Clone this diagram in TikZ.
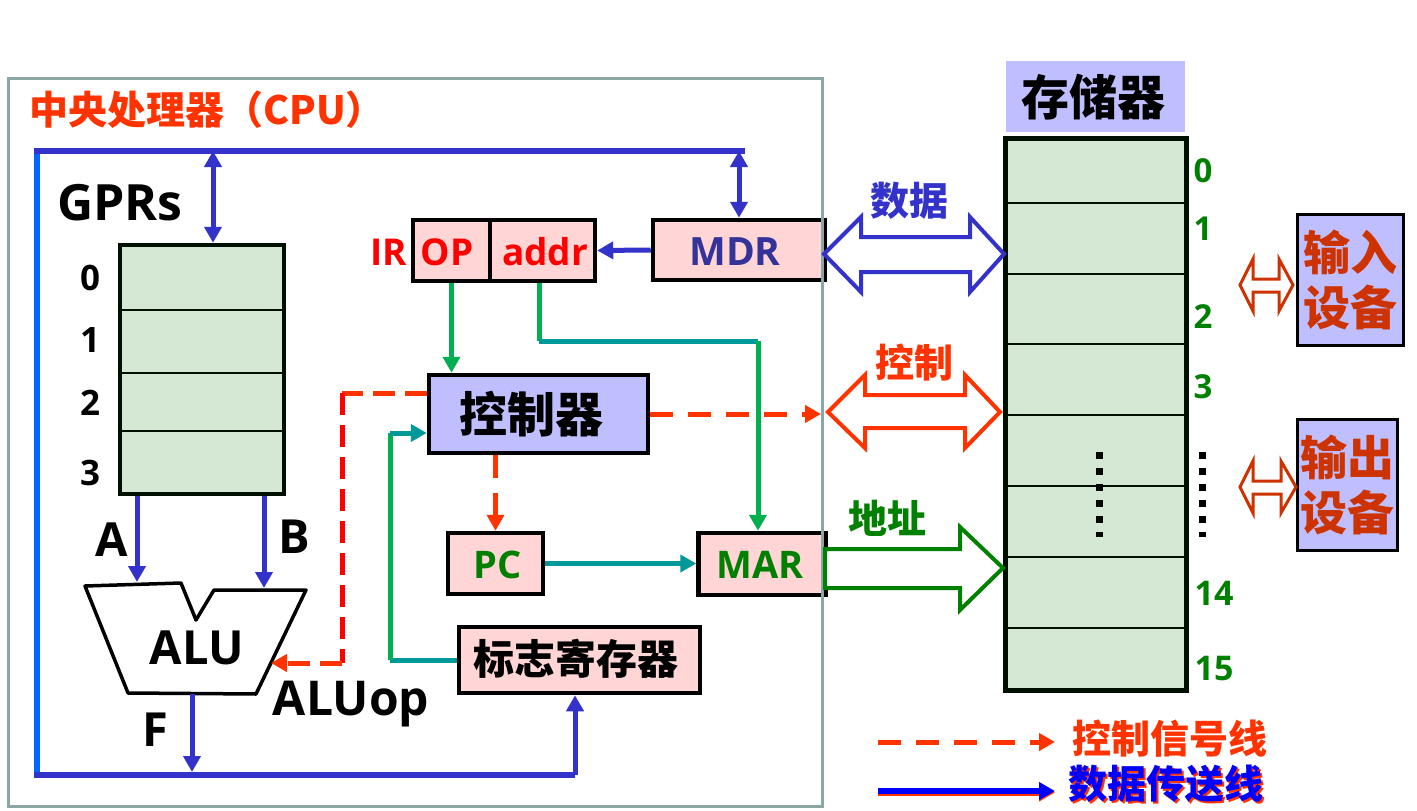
\documentclass[tikz,border=0pt]{standalone}
\usepackage{fontspec}
\setmainfont{Open Sans}
\newfontfamily\cjk{Noto Sans CJK SC}
\usetikzlibrary{arrows.meta,calc}
\definecolor{busc}{HTML}{3333CC}
\definecolor{lbus}{HTML}{0066FF}
\definecolor{ored}{HTML}{FF3300}
\definecolor{gline}{HTML}{00B050}
\definecolor{tline}{HTML}{009999}
\definecolor{pinkf}{HTML}{FFD5D5}
\definecolor{lav}{HTML}{BFBFFF}
\definecolor{memg}{HTML}{D5E8D4}
\definecolor{cpug}{HTML}{8CA5A5}
\definecolor{dgreen}{HTML}{008000}
\definecolor{iotext}{HTML}{CC3300}
\definecolor{mdrtext}{HTML}{333399}
\definecolor{gdark}{HTML}{001000}
\definecolor{pureblue}{HTML}{0000FF}
\begin{document}
\begin{tikzpicture}[x=1pt,y=-1pt,
  box/.style={draw=black,line width=4.5pt,fill=pinkf,inner sep=0pt},
  lat/.style={font=\fontsize{#1pt}{#1pt}\selectfont\bfseries},
  ck/.style={font=\cjk\fontsize{#1pt}{#1pt}\selectfont\bfseries},
  arr/.style={-{Triangle[length=16pt,width=17pt]}},
  barr/.style={{Triangle[length=16pt,width=17pt]}-{Triangle[length=16pt,width=17pt]}},
  dsh/.style={dash pattern=on 23pt off 15pt},
  wire/.style={line width=5pt},
  blk/.style={line width=4pt,fill=white,line join=miter}
]
\useasboundingbox (0,0) rectangle (1417,811);
\fill[white] (0,0) rectangle (1417,811);

% ---------- title ----------
\node[ck=39,text=ored] (title) at (207,110) {中央处理器（CPU）};

% ---------- bus ----------
\coordinate (bTL) at (37,151);
\coordinate (bTR) at (745,151);
\coordinate (bBL) at (37,775);
\coordinate (bBR) at (575,775);
\draw[lbus,line width=5.5pt] (bTL) -- (bBL);
\draw[busc,line width=5.5pt] ($(bTL)+(-3,0)$) -- (bTR);
\draw[busc,line width=5.5pt] ($(bBL)+(-3,0)$) -- (bBR);

% ---------- GPRs ----------
\node[lat=50] (gprs) at (120,203) {GPRs};
\node[draw=gdark,line width=4.5pt,fill=memg,minimum width=164pt,minimum height=249pt,inner sep=0pt] (gpr) at (202,369.5) {};
\foreach \yy in {310,373,431}
  \draw[gdark,line width=2pt] (gpr.west |- 0,\yy) -- (gpr.east |- 0,\yy);
\node[lat=35] (g0) at (90,278) {0};
\node[lat=35] (g1l) at (90,340) {1};
\node[lat=35] (g2) at (90,403) {2};
\node[lat=35] (g3) at (90,473) {3};
\coordinate (gb) at (213,151);
\draw[busc,wire,barr] (gb) -- (gb |- gpr.north);

% ---------- ALU ----------
\draw[black,line width=3.5pt,line join=round] (85,586) -- (181,583) -- (196,620) -- (214,590) -- (306,590) -- (256,694) -- (128,693) -- cycle;
\node[lat=47] (alu) at (197,648) {ALU};
\coordinate (ina) at (137,582);
\coordinate (inb) at (264,588);
\draw[busc,wire,arr] (ina |- gpr.south) -- (ina);
\draw[busc,wire,arr] (inb |- gpr.south) -- (inb);
\node[lat=47] (la) at (112,540) {A};
\node[lat=47] (lb) at (294,537) {B};
\coordinate (fout) at (192,694);
\draw[busc,wire,arr] (fout) -- ($(fout |- bBL)+(0,-3)$);
\node[lat=47] (lf) at (155,730) {F};
\node[lat=48,anchor=base] (aluop) at (351,715) {ALUop};

% ---------- IR / MDR ----------
\node[lat=37,text=red] (ir) at (389,252) {IR};
\node[box,minimum width=77pt,minimum height=61pt] (op) at (451.5,250.5) {};
\node[box,minimum width=105pt,minimum height=61pt] (addr) at (542.5,250.5) {};
\node[lat=37,text=red] at (447,252) {OP};
\node[lat=37,text=red] at (545,252) {addr};
\node[box,minimum width=172pt,minimum height=60pt] (mdr) at (739,250) {};
\node[lat=39,text=mdrtext] at (735,252) {MDR};
\draw[busc,wire,arr] (mdr.west) -- (addr.east);
\draw[busc,wire,barr] (mdr.north |- bTR) -- (mdr.north);

% ---------- controller ----------
\node[draw=black,line width=4.5pt,fill=lav,minimum width=219pt,minimum height=78pt,inner sep=0pt] (ctrl) at (538.5,414) {};
\node[ck=48] at (531,414) {控制器};
\draw[gline,wire,arr] (op.south) -- (op.south |- ctrl.north);

% addr -> MAR
\node[box,minimum width=127pt,minimum height=62pt] (mar) at (762,564) {};
\node[lat=38,text=dgreen] at (760,565) {MAR};
\coordinate (k1) at (758,341);
\coordinate (k0) at (539,341);
\draw[gline,wire] (k0 |- addr.south) -- (k0);
\draw[tline,wire] (k0) -- (k1);
\draw[gline,wire,arr] (k1) -- (k1 |- mar.north);

% PC
\node[box,minimum width=95pt,minimum height=61pt] (pc) at (495.5,563.5) {};
\node[lat=38,text=dgreen] at (498,565) {PC};
\draw[ored,wire,dsh,arr] (pc.north |- ctrl.south) -- (pc.north);
\draw[tline,wire,arr] (pc.east) -- (pc.east -| mar.west);

% flag register
\node[box,minimum width=241pt,minimum height=66pt] (flag) at (579.5,660) {};
\node[ck=41] at (576,659) {标志寄存器};
\coordinate (fl) at (390,433);
\draw[tline,wire] (flag.west) -- (flag.west -| fl);
\draw[gline,wire] (flag.west -| fl) -- (fl);
\draw[tline,wire,arr] (fl) -- (fl -| ctrl.west);
\draw[busc,wire,arr] (bBR) -- (bBR |- flag.south);

% controller -> ALU (dashed)
\coordinate (d1) at (342,393);
\coordinate (d2) at (342,663);
\coordinate (aluin) at (271,663);
\draw[ored,wire,dash pattern=on 22pt off 10pt] (d1 -| ctrl.west) -- (d1);
\draw[red,wire,dash pattern=on 22pt off 10pt] (d1) -- (d2);
\draw[ored,wire,dash pattern=on 22pt off 10pt,arr] (d2) -- (aluin);

% controller -> control bus
\coordinate (cb) at (821,414);
\draw[ored,wire,dsh,arr] (ctrl.east) -- (cb);

% ---------- CPU frame ----------
\node[draw=cpug,line width=3pt,minimum width=814pt,minimum height=728pt,inner sep=0pt] (cpu) at (415,442) {};

% ---------- memory ----------
\node[fill=lav,minimum width=179pt,minimum height=71pt,inner sep=0pt] (memt) at (1095.5,96.5) {};
\node[ck=48] at (1093,97) {存储器};
\node[draw=gdark,line width=5pt,fill=memg,minimum width=181pt,minimum height=552pt,inner sep=0pt] (mem) at (1095.5,414) {};
\foreach \yy in {203,274,344,415,486,557,628}
  \draw[gdark,line width=2.5pt] (mem.west |- 0,\yy) -- (mem.east |- 0,\yy);
\draw[black,line width=7pt,dash pattern=on 7pt off 9pt] (1099,452) -- (1099,537);
\draw[black,line width=7pt,dash pattern=on 7pt off 9pt] (1202,452) -- (1202,537);
\node[lat=33,text=dgreen] (m0) at (1203,171) {0};
\node[lat=33,text=dgreen] (m1) at (1203,229) {1};
\node[lat=33,text=dgreen] (m2) at (1203,317) {2};
\node[lat=33,text=dgreen] (m3) at (1203,387) {3};
\node[lat=34,text=dgreen] (m14) at (1214,593) {14};
\node[lat=34,text=dgreen] (m15) at (1214,669) {15};

% ---------- buses between CPU and memory ----------
\draw[busc,blk] (824,254) -- (861,217) -- (861,237) -- (970,237) -- (970,217) -- (1004,254) -- (970,292) -- (970,272) -- (861,272) -- (861,292) -- cycle;
\node[ck=39,text=busc] (ldata) at (909,201) {数据};
\draw[ored,blk] (828,412) -- (865,375) -- (865,395) -- (965,395) -- (965,375) -- (1000,412) -- (965,448) -- (965,428) -- (865,428) -- (865,448) -- cycle;
\node[ck=39,text=ored] (lctrl) at (914,363) {控制};
\draw[dgreen,blk] (825,549) -- (960,549) -- (960,527) -- (1003,568) -- (960,610) -- (960,588) -- (825,588) -- cycle;
\node[ck=39,text=dgreen] (laddr) at (887,518) {地址};

% ---------- I/O ----------
\node[draw=black,line width=3pt,fill=lav,minimum width=106pt,minimum height=131pt,inner sep=0pt,
  text=iotext,align=center,font=\cjk\fontsize{47pt}{55pt}\selectfont\bfseries] (inp) at (1350,279.5) {输入\\设备};
\node[draw=black,line width=3pt,fill=lav,minimum width=100pt,minimum height=131pt,inner sep=0pt,
  text=iotext,align=center,font=\cjk\fontsize{47pt}{55pt}\selectfont\bfseries] (outp) at (1347,484.5) {输出\\设备};
\draw[iotext,line width=3pt,fill=white] (1240,285) -- (1253,259) -- (1253,279) -- (1279,279) -- (1279,259) -- (1293,285) -- (1279,311) -- (1279,292) -- (1253,292) -- (1253,311) -- cycle;
\draw[iotext,line width=3pt,fill=white] (1240,487) -- (1253,461) -- (1253,481) -- (1281,481) -- (1281,461) -- (1296,487) -- (1281,513) -- (1281,494) -- (1253,494) -- (1253,513) -- cycle;

% ---------- legend ----------
\coordinate (l1s) at (878,742);
\coordinate (l1e) at (1055,742);
\draw[ored,line width=5pt,dsh,arr] (l1s) -- (l1e);
\node[ck=39,text=ored] (lt1) at (1170,739) {控制信号线};
\coordinate (l2s) at (878,791);
\coordinate (l2e) at (1055,791);
\draw[ored,line width=6pt,arr] ($(l2s)+(0,1.5)$) -- ($(l2e)+(0,1.5)$);
\draw[pureblue,line width=6pt,arr] (l2s) -- (l2e);
\node[ck=39,text=ored] at (1167.5,785.5) {数据传送线};
\node[ck=39,text=pureblue] (lt2) at (1166,784) {数据传送线};
\end{tikzpicture}
\end{document}
